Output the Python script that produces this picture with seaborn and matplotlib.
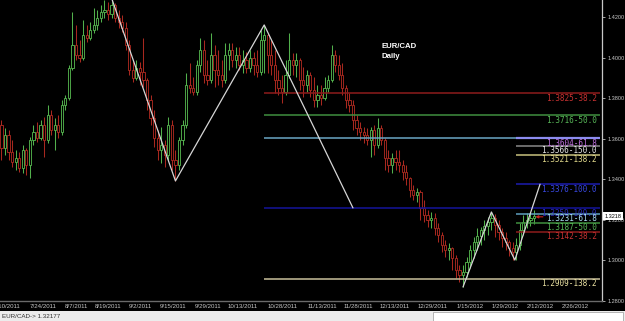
import numpy as np
import pandas as pd
import matplotlib
matplotlib.use("Agg")
import matplotlib.pyplot as plt
import seaborn as sns
from matplotlib import font_manager as fm
from matplotlib.patches import Rectangle
from matplotlib.transforms import blended_transform_factory

# ---------------- data ----------------
opens = [1.3668,1.3554,1.3618,1.3535,1.3485,1.3505,1.3456,1.3545,1.3471,1.3594,
         1.3633,1.3603,1.3668,1.3594,1.3717,1.3643,1.3668,1.3633,1.3766,1.3801,
         1.3949,1.4062,1.4013,1.3998,1.4111,1.4097,1.4136,1.4161,1.4195,1.4225,
         1.4235,1.4215,1.4259,1.4195,1.4175,1.4146,1.4062,1.3939,1.3900,1.3949,
         1.3929,1.3890,1.3791,1.3702,1.3603,1.3545,1.3569,1.3520,1.3668,1.3495,
         1.3471,1.3594,1.3668,1.3865,1.3850,1.3830,1.3964,1.4038,1.3914,1.3890,
         1.4013,1.3939,1.3914,1.3890,1.4013,1.4038,1.3988,1.4013,1.3964,1.3988,
         1.3949,1.3998,1.3964,1.3929,1.4087,1.4111,1.4013,1.3964,1.3890,1.3850,
         1.3830,1.3914,1.3988,1.3964,1.3988,1.3890,1.3865,1.3914,1.3840,1.3791,
         1.3816,1.3801,1.3850,1.3890,1.4013,1.3964,1.3914,1.3850,1.3791,1.3766,
         1.3692,1.3653,1.3633,1.3618,1.3594,1.3643,1.3569,1.3653,1.3594,1.3505,
         1.3471,1.3505,1.3485,1.3471,1.3436,1.3406,1.3347,1.3323,1.3338,1.3259,
         1.3224,1.3199,1.3209,1.3160,1.3125,1.3076,1.3052,1.3062,1.3012,1.2953,
         1.2928,1.2943,1.2992,1.3052,1.3091,1.3120,1.3150,1.3170,1.3189,1.3209,
         1.3175,1.3140,1.3111,1.3091,1.3062,1.3042,1.3076,1.3150,1.3189,1.3199,
         1.3209]
highs = [1.3692,1.3653,1.3643,1.3594,1.3545,1.3535,1.3569,1.3554,1.3608,1.3668,
         1.3682,1.3692,1.3707,1.3766,1.3742,1.3702,1.3717,1.3791,1.3816,1.3964,
         1.4225,1.4161,1.4087,1.4185,1.4161,1.4175,1.4245,1.4235,1.4259,1.4284,
         1.4274,1.4294,1.4269,1.4235,1.4210,1.4175,1.4087,1.3988,1.3988,1.3978,
         1.4097,1.3900,1.3816,1.3742,1.3643,1.3658,1.3594,1.3707,1.3692,1.3545,
         1.3608,1.3692,1.3924,1.3974,1.3904,1.3988,1.4097,1.4087,1.3988,1.4121,
         1.4062,1.4038,1.3988,1.4072,1.4072,1.4072,1.4052,1.4052,1.4038,1.4028,
         1.4038,1.4028,1.4038,1.4136,1.4161,1.4121,1.4087,1.4038,1.3939,1.3914,
         1.3988,1.4121,1.4023,1.4023,1.3998,1.3954,1.3939,1.3929,1.3904,1.3865,
         1.3865,1.3904,1.3914,1.4062,1.4038,1.4013,1.3974,1.3865,1.3826,1.3791,
         1.3717,1.3682,1.3658,1.3653,1.3658,1.3668,1.3702,1.3668,1.3603,1.3545,
         1.3530,1.3545,1.3545,1.3495,1.3471,1.3411,1.3372,1.3357,1.3347,1.3298,
         1.3249,1.3239,1.3234,1.3185,1.3140,1.3101,1.3086,1.3066,1.3027,1.2978,
         1.2978,1.3017,1.3076,1.3116,1.3160,1.3165,1.3199,1.3214,1.3239,1.3229,
         1.3199,1.3160,1.3140,1.3101,1.3091,1.3111,1.3185,1.3224,1.3234,1.3239,
         1.3249]
lows = [1.3495,1.3520,1.3495,1.3461,1.3446,1.3436,1.3431,1.3421,1.3406,1.3569,
        1.3584,1.3594,1.3510,1.3579,1.3618,1.3545,1.3603,1.3618,1.3742,1.3791,
        1.3939,1.3988,1.3978,1.3988,1.4077,1.4087,1.4121,1.4136,1.4175,1.4195,
        1.4185,1.4195,1.4175,1.4146,1.4126,1.4038,1.3914,1.3880,1.3890,1.3865,
        1.3855,1.3742,1.3668,1.3559,1.3495,1.3481,1.3461,1.3495,1.3446,1.3392,
        1.3446,1.3569,1.3653,1.3826,1.3816,1.3816,1.3929,1.3875,1.3865,1.3875,
        1.3855,1.3865,1.3855,1.3875,1.3939,1.3954,1.3949,1.3939,1.3924,1.3924,
        1.3929,1.3914,1.3904,1.3914,1.3924,1.3924,1.3914,1.3826,1.3816,1.3776,
        1.3816,1.3900,1.3914,1.3904,1.3840,1.3806,1.3830,1.3806,1.3756,1.3756,
        1.3766,1.3791,1.3830,1.3880,1.3929,1.3890,1.3816,1.3752,1.3732,1.3643,
        1.3618,1.3594,1.3579,1.3569,1.3510,1.3520,1.3554,1.3569,1.3446,1.3436,
        1.3431,1.3446,1.3436,1.3397,1.3372,1.3313,1.3298,1.3288,1.3199,1.3189,
        1.3165,1.3160,1.3125,1.3091,1.3042,1.3017,1.3002,1.2953,1.2914,1.2894,
        1.2869,1.2918,1.2963,1.3012,1.3052,1.3076,1.3101,1.3125,1.3150,1.3116,
        1.3101,1.3066,1.3052,1.3022,1.3002,1.3002,1.3052,1.3125,1.3160,1.3170,
        1.3180]
closes = [1.3554,1.3618,1.3535,1.3485,1.3505,1.3456,1.3545,1.3471,1.3594,1.3633,
          1.3603,1.3668,1.3594,1.3717,1.3643,1.3668,1.3633,1.3766,1.3801,1.3949,
          1.4062,1.4013,1.3998,1.4111,1.4097,1.4136,1.4161,1.4195,1.4225,1.4235,
          1.4215,1.4259,1.4195,1.4175,1.4146,1.4062,1.3939,1.3900,1.3949,1.3929,
          1.3890,1.3791,1.3702,1.3603,1.3545,1.3569,1.3520,1.3668,1.3495,1.3471,
          1.3594,1.3668,1.3865,1.3850,1.3830,1.3964,1.4038,1.3914,1.3890,1.4013,
          1.3939,1.3914,1.3890,1.4013,1.4038,1.3988,1.4013,1.3964,1.3988,1.3949,
          1.3998,1.3964,1.3929,1.4087,1.4111,1.4013,1.3964,1.3890,1.3850,1.3830,
          1.3914,1.3988,1.3964,1.3988,1.3890,1.3865,1.3914,1.3840,1.3791,1.3816,
          1.3801,1.3850,1.3890,1.4013,1.3964,1.3914,1.3850,1.3791,1.3766,1.3692,
          1.3653,1.3633,1.3618,1.3594,1.3643,1.3569,1.3653,1.3594,1.3505,1.3471,
          1.3505,1.3485,1.3471,1.3436,1.3406,1.3347,1.3323,1.3338,1.3259,1.3224,
          1.3199,1.3209,1.3160,1.3125,1.3076,1.3052,1.3062,1.3012,1.2953,1.2928,
          1.2943,1.2992,1.3052,1.3091,1.3120,1.3150,1.3170,1.3189,1.3209,1.3175,
          1.3140,1.3111,1.3091,1.3062,1.3042,1.3076,1.3150,1.3189,1.3199,1.3209,
          1.3218]

date_labels = ["7/10/2011", "7/24/2011", "8/7/2011", "8/19/2011", "9/2/2011",
               "9/15/2011", "9/29/2011", "10/13/2011", "10/28/2011", "11/13/2011",
               "11/28/2011", "12/13/2011", "12/29/2011", "1/15/2012", "1/29/2012",
               "2/12/2012", "2/26/2012"]
date_label_bars = [1.5, 11.7, 21.0, 30.0, 39.0, 48.3, 58.2, 68.0, 79.3, 90.3,
                   100.4, 110.8, 121.5, 132.0, 141.8, 151.7, 161.5]

price_ticks = [1.28, 1.30, 1.32, 1.34, 1.36, 1.38, 1.40, 1.42]

# zigzag swings (bar index, price)
zz1_bar = [31, 49, 74, 99]
zz1_price = [1.4294, 1.3392, 1.4161, 1.3259]
zz2_bar = [130, 138, 144.6, 151.7]
zz2_price = [1.2869, 1.3239, 1.3002, 1.3376]

# fibonacci levels
fib_levels = [1.3825, 1.3716, 1.3604, 1.3566, 1.3521, 1.3376, 1.3259, 1.3231, 1.3187, 1.3142, 1.2909]
fib_names = ["38.2", "50.0", "61.8", "150.0", "138.2", "100.0", "100.0", "61.8", "50.0", "38.2", "138.2"]
fib_start = [74, 74, 74, 145, 145, 145, 74, 145, 145, 145, 74]
fib_line_col = ["#8e1c1c", "#3f8f3f", "#6aa6c4", "#8a8a8a", "#c8c27e", "#1c1cb0",
                "#14149a", "#5e9ebe", "#3f8f3f", "#8e1c1c", "#c9c19c"]
fib_text_col = ["#c83232", "#58b858", "#c070e0", "#e6e6e6", "#e2da8c", "#3848e0",
                "#2c2cb8", "#a8dcf2", "#58b858", "#c83232", "#ebe2a2"]

last_price_text = "1.32177"
last_close = 1.3218

# ---------------- style ----------------
sns.set_theme(style="dark", rc={"axes.facecolor": "black", "figure.facecolor": "black",
                                "axes.grid": False})
avail = {f.name for f in fm.fontManager.ttflist}
NARROW = "Liberation Sans Narrow" if "Liberation Sans Narrow" in avail else "Liberation Sans"
plt.rcParams["font.family"] = ["DejaVu Sans"]

GREEN = "#52b04c"
RED = "#a8281f"

fig = plt.figure(figsize=(6.25, 3.21), dpi=100)
ax = fig.add_axes([0, 20 / 321, 602 / 625, 301 / 321])
ax.set_facecolor("black")

df = pd.DataFrame({"bar": np.arange(len(closes)), "open": opens, "high": highs,
                   "low": lows, "close": closes})
up = df["close"] >= df["open"]
cols = np.where(up, GREEN, RED)
body_lo = np.minimum(df["open"], df["close"])
body_h = np.maximum((df["close"] - df["open"]).abs(), 0.00025)

ax.vlines(df["bar"], df["low"], df["high"], colors=cols, lw=0.75, zorder=2)
ax.bar(df["bar"], body_h, bottom=body_lo, width=0.62, facecolor="black",
       edgecolor=cols, linewidth=0.65, zorder=3)

# fib lines
x_end = 168.6
for lvl, nm, st, lc, tc in zip(fib_levels, fib_names, fib_start, fib_line_col, fib_text_col):
    ax.hlines(lvl, st, x_end, color=lc, lw=1.1, zorder=4)
for lvl, nm, st, lc, tc in zip(fib_levels, fib_names, fib_start, fib_line_col, fib_text_col):
    ax.text(167.6, lvl - 0.0003, f"{lvl:.4f}-{nm}", ha="right", va="top",
            fontsize=5.6, family="DejaVu Sans Mono", color=tc, zorder=6)
ax.hlines(fib_levels[2], 145, x_end, color="#8c8cf0", lw=1.6, zorder=5)

# zigzags
sns.lineplot(x=zz1_bar, y=zz1_price, ax=ax, color="#d6d6d6", lw=0.9, sort=False,
             estimator=None, zorder=7)
sns.lineplot(x=zz2_bar, y=zz2_price, ax=ax, color="#d6d6d6", lw=0.9, sort=False,
             estimator=None, zorder=7)

# red arrow at last price
ax.annotate("", xy=(149.6, last_close - 0.0003), xytext=(153.3, last_close - 0.0003),
            arrowprops=dict(arrowstyle="-|>", color="#c82020", lw=0.8,
                            mutation_scale=4), zorder=8)

# title text
ax.text(381 / 602, 1 - 47 / 301, "EUR/CAD", transform=ax.transAxes, color="white",
        fontsize=5.6, fontweight="bold", family="Liberation Sans", va="center", ha="left")
ax.text(381 / 602, 1 - 57 / 301, "Daily", transform=ax.transAxes, color="white",
        fontsize=5.6, fontweight="bold", family="Liberation Sans", va="center", ha="left")

# axes limits/ticks
ax.set_xlim(-0.42, 169.15)
ax.set_ylim(1.2800, 1.4284)
ax.yaxis.tick_right()
ax.set_yticks(price_ticks)
ax.set_yticklabels([f"{p:.4f}" for p in price_ticks])
ax.set_xticks(date_label_bars)
ax.set_xticklabels(date_labels)
ax.tick_params(axis="y", length=2.5, width=0.6, color="#c0c0c0", labelsize=4,
               labelcolor="#c8c8c8", pad=1.5, right=True, left=False)
ax.tick_params(axis="x", length=0, labelsize=4.4, labelcolor="#c8c8c8", pad=1.8)
for lab in ax.get_xticklabels() + ax.get_yticklabels():
    lab.set_family(NARROW)
for s in ["top", "left"]:
    ax.spines[s].set_visible(False)
ax.spines["right"].set_color("#c8c8c8")
ax.spines["right"].set_linewidth(0.9)
ax.spines["bottom"].set_color("#6a6a6a")
ax.spines["bottom"].set_linewidth(1.0)
ax.set_xlabel("")
ax.set_ylabel("")
ax.grid(False)

# current price tag
tr = blended_transform_factory(ax.transAxes, ax.transData)
ax.text(1.004, last_close, f"{last_close:.4f}", transform=tr, fontsize=4,
        family=NARROW, color="black", ha="left", va="center", clip_on=False, zorder=10,
        bbox=dict(boxstyle="square,pad=0.25", fc="white", ec="none"))

# status bar
fig.add_artist(Rectangle((0, 0), 1, 10 / 321, transform=fig.transFigure,
                         facecolor="#ececec", edgecolor="none"))
fig.add_artist(Rectangle((433 / 625, 0.5 / 321), 190 / 625, 8.5 / 321,
                         transform=fig.transFigure, facecolor="white",
                         edgecolor="#9a9a9a", lw=0.5))
fig.text(2 / 625, 5 / 321, f"EUR/CAD-> {last_price_text}", fontsize=4.5,
         family=NARROW, color="#303030", va="center", ha="left")

fig.savefig("out.png", dpi=100, facecolor="black")
